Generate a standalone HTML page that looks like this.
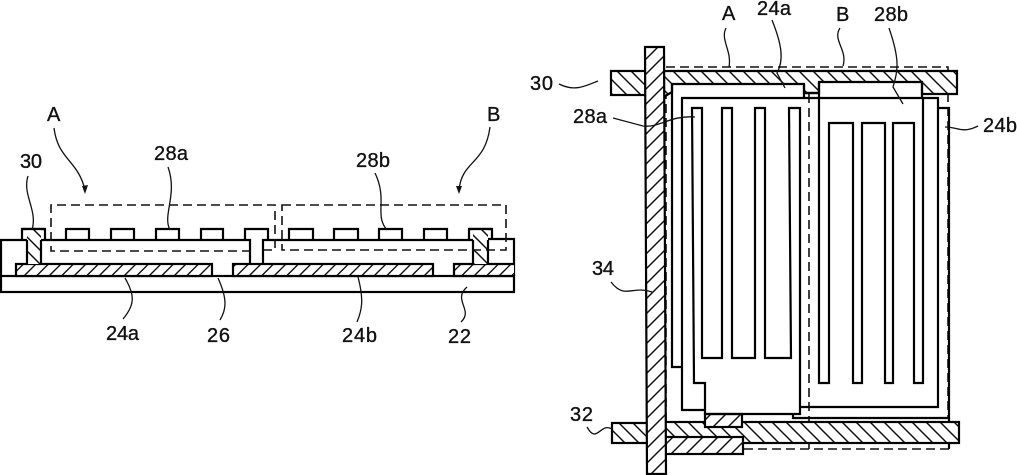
<!DOCTYPE html>
<html>
<head>
<meta charset="utf-8">
<style>
html,body{margin:0;padding:0;background:#fff}
svg{display:block}
text{font-family:"Liberation Sans",sans-serif;font-size:20px;fill:#111;stroke:#111;stroke-width:.35}
.o{fill:none;stroke:#000;stroke-width:2.2;stroke-linejoin:miter}
.w{fill:#fff;stroke:#000;stroke-width:2.2}
.d{fill:none;stroke:#111;stroke-width:1.6;stroke-dasharray:9 5}
.l{fill:none;stroke:#111;stroke-width:1.3}
</style>
</head>
<body>
<svg width="1017" height="475" viewBox="0 0 1017 475" xmlns="http://www.w3.org/2000/svg">
<defs>
<pattern id="f" patternUnits="userSpaceOnUse" width="15" height="15"><rect width="15" height="15" fill="#fff"/><path d="M-2,17 L17,-2 M-2,2 L2,-2 M13,17 L17,13" stroke="#111" stroke-width="1.5"/></pattern>
<pattern id="b" patternUnits="userSpaceOnUse" width="14" height="14"><rect width="14" height="14" fill="#fff"/><path d="M-2,-2 L16,16 M12,-2 L16,2 M-2,12 L2,16" stroke="#111" stroke-width="1.5"/></pattern>
<pattern id="g" patternUnits="userSpaceOnUse" width="12.5" height="12.5"><rect width="12.5" height="12.5" fill="#fff"/><path d="M-2,14.5 L14.5,-2 M-2,2 L2,-2 M10.5,14.5 L14.5,10.5" stroke="#111" stroke-width="1.4"/></pattern>
</defs>

<!-- LEFT: section view -->
<rect class="w" x="1" y="276" width="513" height="16"/>
<path class="o" d="M1,276 V240 H27 M41,240 H250 V264 M263,264 V240 H473 M488,239 H514 V276"/>
<rect x="16" y="264" width="196" height="12" fill="url(#g)" stroke="#000" stroke-width="2.2"/>
<rect x="233" y="264" width="200" height="12" fill="url(#g)" stroke="#000" stroke-width="2.2"/>
<path d="M514,264 H454 V276 H514" fill="url(#g)" stroke="#000" stroke-width="2.2"/>
<g class="o">
<path d="M66,240 V229 H89 V240"/><path d="M111,240 V229 H134 V240"/><path d="M156,240 V229 H179 V240"/><path d="M201,240 V229 H223 V240"/><path d="M245,240 V229 H268 V240"/>
<path d="M289,240 V229 H313 V240"/><path d="M334,240 V229 H358 V240"/><path d="M379,240 V229 H402 V240"/><path d="M424,240 V229 H447 V240"/>
</g>
<path class="o" d="M22,240 V229 H45 V240"/>
<path class="o" d="M469,240 V229 H492 V240"/>
<rect x="27" y="229" width="14" height="35" fill="url(#b)" stroke="none"/>
<rect x="473" y="229" width="15" height="35" fill="url(#b)" stroke="none"/>
<path class="o" d="M27,240 V264 M41,240 V264 M473,240 V264 M488,240 V264 M22,229 H45 M469,229 H492"/>
<path class="d" d="M251,251 H51 V205 H275 V250 H262"/>
<path class="d" d="M282,205 H506 V250 H282 Z"/>

<path class="l" d="M54,128 C58,160 78,160 85,190"/><path d="M82,186 L88,185 L85,194 Z" fill="#111"/>
<path class="l" d="M490,127 C485,165 462,160 459,190"/><path d="M456,186 L462,186 L459,194 Z" fill="#111"/>
<path class="l" d="M28,176 C22,195 38,210 32,230"/>
<path class="l" d="M168,167 C178,195 162,215 170,230"/>
<path class="l" d="M125,278 C135,295 135,305 123,319"/>
<path class="l" d="M218,278 C228,300 226,310 220,320"/>
<path class="l" d="M375,173 C388,200 374,215 387,230"/>
<path class="l" d="M358,277 C364,300 362,310 357,322"/>
<path class="l" d="M467,287 C452,300 474,310 461,322"/>

<text x="47" y="121">A</text>
<text x="20" y="168" textLength="22">30</text>
<text x="154" y="160" textLength="34">28a</text>
<text x="106" y="340" textLength="33">24a</text>
<text x="207" y="342" textLength="23">26</text>
<text x="487" y="121">B</text>
<text x="356" y="167" textLength="34">28b</text>
<text x="342" y="342" textLength="35">24b</text>
<text x="448" y="343" textLength="23">22</text>

<!-- RIGHT: plan view -->
<path class="d" d="M666,67 H948 V417"/>
<path class="d" d="M666,90 V425"/>
<path class="d" d="M809,94 V449"/>
<path class="d" d="M744,449 H949"/>
<path class="o" d="M949,417 V449"/>

<!-- top bar -->
<rect x="611" y="71" width="36" height="24" fill="url(#b)" stroke="#000" stroke-width="2.2"/>
<path d="M662,71 H957 V94 H922 V82 H819 V93 H804 V84 H672 V92 L662,98 Z" fill="url(#b)" stroke="#000" stroke-width="2.2"/>

<!-- bottom bar -->
<rect x="612" y="423" width="37" height="20" fill="url(#b)" stroke="#000" stroke-width="2.2"/>
<rect x="664" y="422" width="295" height="21" fill="url(#b)" stroke="#000" stroke-width="2.2"/>
<rect x="664" y="437" width="79" height="17" fill="url(#f)" stroke="#000" stroke-width="2.2"/>
<rect x="705" y="414" width="37" height="13" fill="url(#f)" stroke="#000" stroke-width="2.2"/>

<!-- 24a outline -->
<path class="o" d="M672,84 V367 H682 M682,98 V410 H705"/>
<path class="o" d="M681,98 H938 V407 H801"/>
<path class="o" d="M804,84 V98 M804,93 H819"/>
<!-- 24b outline -->
<path class="o" d="M938,108 H949 V418 H793 V413"/>
<path class="o" d="M922,82 V98"/>
<!-- 28a comb -->
<path class="o" d="M692,108 L694,383 H705 V414 H800 V108 H789 L791,358 H765 V108 H755 V358 H732 V108 H722 V358 H702 V108 Z"/>
<!-- 28b comb -->
<path class="o" d="M819,82 V383 H829 V123 H853 V383 H862 V123 H885 V383 H893 V123 H914 V383 H923 V98"/>

<!-- vertical bar 34 -->
<path d="M645,47 H664 L666,474 H647 Z" fill="url(#f)" stroke="#000" stroke-width="2.2"/>

<path class="l" d="M559,84 C575,92 585,86 598,81"/>
<path class="l" d="M613,118 L643,126 C660,128 670,115 695,117"/>
<path class="l" d="M726,28 C720,40 732,50 729,67"/>
<path class="l" d="M772,20 C782,45 784,60 777,73 L785,88"/>
<path class="l" d="M840,28 C832,40 848,50 843,66"/>
<path class="l" d="M889,28 C900,60 898,70 893,87 L903,104"/>
<path class="l" d="M945,127 C958,127 962,134 978,126"/>
<path class="l" d="M611,282 C625,300 632,285 652,292"/>
<path class="l" d="M587,427 C597,445 600,422 612,429"/>

<text x="530" y="90" textLength="23">30</text>
<text x="573" y="123" textLength="34">28a</text>
<text x="722" y="20">A</text>
<text x="757" y="15" textLength="34">24a</text>
<text x="836" y="21">B</text>
<text x="874" y="21" textLength="34">28b</text>
<text x="983" y="132" textLength="34">24b</text>
<text x="592" y="275" textLength="22">34</text>
<text x="570" y="421" textLength="23">32</text>
</svg>
</body>
</html>
